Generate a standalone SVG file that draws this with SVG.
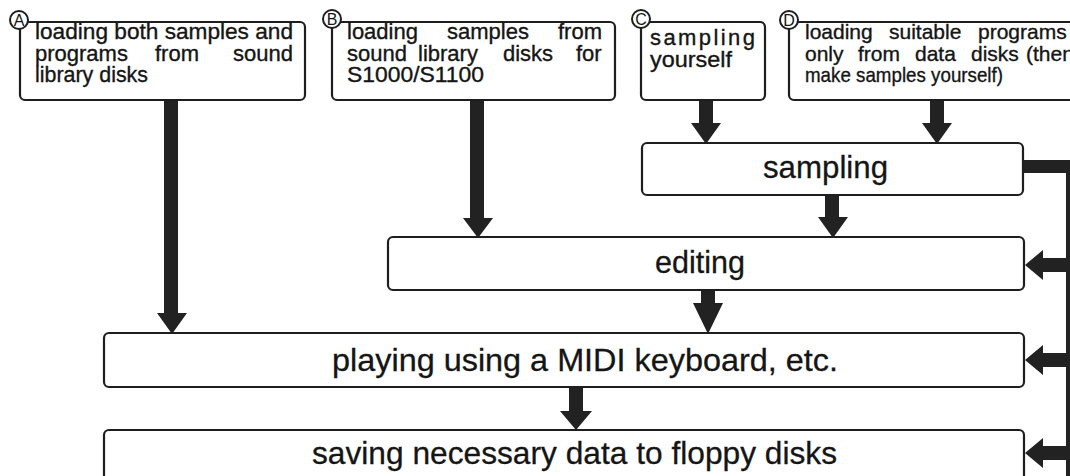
<svg xmlns="http://www.w3.org/2000/svg" width="1070" height="476" viewBox="0 0 1070 476">
<style>
.box{fill:#fff;stroke:#1e1e1e;stroke-width:2.2}
.big{font-family:"Liberation Sans",Arial,Helvetica,sans-serif;font-size:32px;fill:#151515;stroke:#151515;stroke-width:0.3}
.sm{font-family:"Liberation Sans",Arial,Helvetica,sans-serif;font-size:22px;fill:#151515;stroke:#151515;stroke-width:0.35}
.smd{font-family:"Liberation Sans",Arial,Helvetica,sans-serif;font-size:21px;fill:#151515;stroke:#151515;stroke-width:0.35}
.circ{fill:#fff;stroke:#1e1e1e;stroke-width:2}
.lt{font-family:"Liberation Sans",Arial,Helvetica,sans-serif;font-size:16px;fill:#151515;text-anchor:middle}
.arr{fill:#222}
</style>
<rect width="1070" height="476" fill="#fff"/>
<g id="connectors">
  <polygon class="arr" points="164,100 178,100 178,313 187,313 172,334 157,313 164,313"/>
  <polygon class="arr" points="470,100 484,100 484,218 493,218 478,238 463,218 470,218"/>
  <polygon class="arr" points="699,100 713,100 713,123 721,123 706,144 691,123 699,123"/>
  <polygon class="arr" points="930,100 944,100 944,123 952,123 937,144 922,123 930,123"/>
  <polygon class="arr" points="825,195 839,195 839,217 848,217 833,238 818,217 825,217"/>
  <polygon class="arr" points="701,290 715,290 715,303 723,303 708,334 693,303 701,303"/>
  <polygon class="arr" points="569,387 583,387 583,411 592,411 576,430 560,411 569,411"/>
  <rect class="arr" x="1023" y="160" width="47" height="13"/>
  <rect class="arr" x="1066" y="160" width="4" height="316"/>
  <polygon class="arr" points="1066,258 1043,258 1043,250 1025,265 1043,280 1043,272 1066,272"/>
  <polygon class="arr" points="1066,353 1043,353 1043,345 1025,360 1043,375 1043,367 1066,367"/>
  <polygon class="arr" points="1066,446 1043,446 1043,438 1025,453 1043,468 1043,460 1066,460"/>
</g>
<g id="nodeA">
  <rect class="box" x="20" y="22" width="285" height="78" rx="5"/>
  <circle class="circ" cx="19" cy="20" r="9"/>
  <text class="lt" x="19" y="25.8">A</text>
  <text class="sm" x="35" y="39" textLength="258" lengthAdjust="spacingAndGlyphs">loading both samples and</text>
  <text class="sm" y="61"><tspan x="35">programs</tspan> <tspan x="155">from</tspan> <tspan x="233">sound</tspan></text>
  <text class="sm" x="35" y="82" textLength="113" lengthAdjust="spacingAndGlyphs">library disks</text>
</g>
<g id="nodeB">
  <rect class="box" x="332" y="22" width="283" height="78" rx="5"/>
  <circle class="circ" cx="332" cy="19" r="9"/>
  <text class="lt" x="332" y="24.8">B</text>
  <text class="sm" y="39"><tspan x="347">loading</tspan> <tspan x="447">samples</tspan> <tspan x="558">from</tspan></text>
  <text class="sm" y="61"><tspan x="347">sound</tspan> <tspan x="418">library</tspan> <tspan x="503">disks</tspan> <tspan x="576">for</tspan></text>
  <text class="sm" x="347" y="82" textLength="137" lengthAdjust="spacingAndGlyphs">S1000/S1100</text>
</g>
<g id="nodeC">
  <rect class="box" x="641" y="22" width="124" height="78" rx="5"/>
  <circle class="circ" cx="641" cy="19" r="9"/>
  <text class="lt" x="641" y="24.8">C</text>
  <text class="sm" x="650" y="45" textLength="105">sampling</text>
  <text class="sm" x="650" y="67" textLength="82" lengthAdjust="spacingAndGlyphs">yourself</text>
</g>
<g id="nodeD">
  <rect class="box" x="789" y="22" width="290" height="78" rx="5"/>
  <circle class="circ" cx="789" cy="20" r="9"/>
  <text class="lt" x="789" y="25.8">D</text>
  <text class="smd" y="39"><tspan x="805">loading</tspan> <tspan x="889">suitable</tspan> <tspan x="978">programs</tspan></text>
  <text class="smd" y="61"><tspan x="805">only</tspan> <tspan x="858">from</tspan> <tspan x="915">data</tspan> <tspan x="971">disks</tspan> <tspan x="1026">(then</tspan></text>
  <text class="smd" x="805" y="82" textLength="198" lengthAdjust="spacingAndGlyphs">make samples yourself)</text>
</g>
<g id="sampling">
  <rect class="box" x="642" y="143" width="381" height="52" rx="5"/>
  <text class="big" x="763" y="178" textLength="125" lengthAdjust="spacingAndGlyphs">sampling</text>
</g>
<g id="editing">
  <rect class="box" x="388" y="237" width="636" height="53" rx="5"/>
  <text class="big" x="655" y="273" textLength="90" lengthAdjust="spacingAndGlyphs">editing</text>
</g>
<g id="playing">
  <rect class="box" x="104" y="333" width="920" height="54" rx="5"/>
  <text class="big" x="332" y="371" textLength="506" lengthAdjust="spacingAndGlyphs">playing using a MIDI keyboard, etc.</text>
</g>
<g id="saving">
  <rect class="box" x="104" y="430" width="920" height="56" rx="5"/>
  <text class="big" x="312" y="464" textLength="525" lengthAdjust="spacingAndGlyphs">saving necessary data to floppy disks</text>
</g>
</svg>
